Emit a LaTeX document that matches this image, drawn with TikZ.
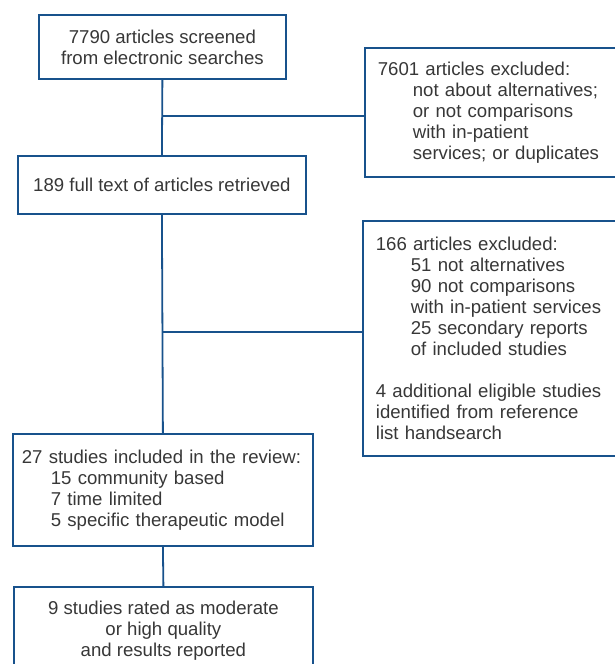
\documentclass[tikz,border=0pt]{standalone}
\usepackage{fontspec}
\setmainfont{Liberation Sans}
\definecolor{lineblue}{RGB}{24,82,140}
\definecolor{txtgrey}{RGB}{55,55,55}
\begin{document}
\begin{tikzpicture}[x=1pt,y=-1pt,
  box/.style={draw=lineblue, line width=1.8pt, text=txtgrey,
    font=\fontsize{18.6}{21}\selectfont, inner sep=0pt, anchor=north west},
  leftbox/.style={box, align=left, inner xsep=13pt},
  conn/.style={draw=lineblue, line width=1.8pt}]
\clip (0,0) rectangle (615,664);
\node[box, minimum width=247pt, minimum height=64pt, align=center] (b1) at (38,14)
  {7790 articles screened\\from electronic searches};
\node[box, minimum width=288pt, minimum height=58pt, align=center] (b2) at (17,155)
  {189 full text of articles retrieved};
\node[leftbox, text width=225pt, minimum height=129pt] (b3) at (364,47)
  {7601 articles excluded:\\
   \hspace*{35pt}not about alternatives;\\
   \hspace*{35pt}or not comparisons\\
   \hspace*{35pt}with in-patient\\
   \hspace*{35pt}services; or duplicates};
\node[leftbox, text width=227pt, minimum height=235pt] (b4) at (362,220)
  {166 articles excluded:\\
   \hspace*{35pt}51 not alternatives\\
   \hspace*{35pt}90 not comparisons\\
   \hspace*{35pt}with in-patient services\\
   \hspace*{35pt}25 secondary reports\\
   \hspace*{35pt}of included studies\\[21pt]
   4 additional eligible studies\\
   identified from reference\\
   list handsearch};
\node[box, align=left, inner xsep=9pt, text width=282pt, minimum height=112pt] (b5) at (12,433)
  {27 studies included in the review:\\
   \hspace*{29pt}15 community based\\
   \hspace*{29pt}7 time limited\\
   \hspace*{29pt}5 specific therapeutic model};
\node[box, minimum width=299pt, minimum height=88pt, align=center] (b6) at (13,586)
  {9 studies rated as moderate\\or high quality\\and results reported};
\coordinate (j1) at (162,116);
\coordinate (j2) at (162,332);
\draw[conn] (b1.south) -- (b2.north);
\draw[conn] (j1) -- (j1 -| b3.west);
\draw[conn] (b2.south) -- (b5.north);
\draw[conn] (j2) -- (j2 -| b4.west);
\draw[conn] (b5.south) -- (b6.north);
\end{tikzpicture}
\end{document}
